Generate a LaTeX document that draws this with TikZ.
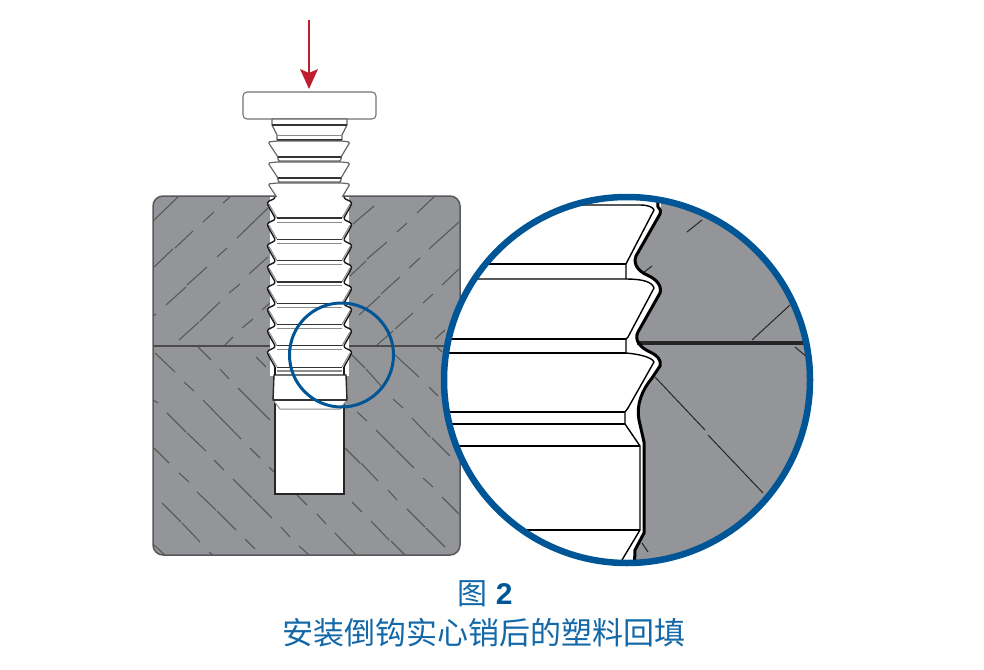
\documentclass[tikz,border=0pt]{standalone}
\usepackage{fontspec}
\setmainfont{Liberation Sans}
\newfontfamily\cjk{Noto Sans CJK SC}
\definecolor{blockgray}{HTML}{939598}
\definecolor{edgegray}{HTML}{58595B}
\definecolor{calloutblue}{HTML}{005596}
\definecolor{captionblue}{HTML}{1268A8}
\definecolor{arrowred}{HTML}{BE1E2D}
\tikzset{
  hatchline/.style={draw=edgegray,line width=1.1pt},
  screwline/.style={draw=black!80,line width=1.2pt,line join=round},
  softline/.style={draw=black!45,line width=1pt,line join=round},
  outline/.style={draw=black!60,line width=1.2pt,line join=round,fill=white},
  cavity/.style={draw=black!90,line width=1.4pt,line join=round},
  zoomline/.style={draw=black,line width=1.4pt,line join=round},
  zoomprofile/.style={draw=black,line width=3pt,line join=round},
  zoomhatch/.style={draw=black!85,line width=1pt},
  callout/.style={draw=calloutblue,line width=3pt},
}
\newcommand{\embeddedbarb}[1]{% #1 = y of the tip
  \draw[softline] (277,#1+15) -- (269,#1+1) (342,#1+15) -- (350,#1+1);
  \draw[screwline] (277,#1+15) -- (342,#1+15);
  \draw[softline] (277,#1+19) -- (342,#1+19);
  \draw[cavity] (275,#1-6) .. controls (275,#1-3) and (268,#1-3) .. (267.5,#1) .. controls (267.5,#1+2) and (270,#1+6) .. (274,#1+13) .. controls (275,#1+14) and (275,#1+15) .. (275,#1+15.3);
  \draw[cavity] (344,#1-6) .. controls (344,#1-3) and (351,#1-3) .. (351.5,#1) .. controls (351.5,#1+2) and (349,#1+6) .. (345,#1+13) .. controls (344,#1+14) and (344,#1+15) .. (344,#1+15.3);
}
\begin{document}
\begin{tikzpicture}[x=1pt,y=-1pt]
\useasboundingbox (0,0) rectangle (984,669);
% block
\draw[fill=blockgray,draw=edgegray,line width=1.5pt,rounded corners=10pt] (153,196) rectangle (460,555);
% hatches
\foreach \a/\b/\c/\d in {
154/220/178/197, 223/203/230/197, 203/222/214/212, 154/267/173/249, 175/248/193/231,
237/238/268/208, 217/257/227/248, 166/305/186/287, 187/285/207/267, 249/274/268/257,
229/293/240/284, 179/340/199/322, 200/321/220/302, 262/310/270/303, 242/328/253/319,
225/345/233/337, 153/316/156/314,
353/224/374/206, 417/213/435/196, 397/232/407/223, 350/276/366/261, 367/259/387/242,
429/249/459/222, 409/268/420/258, 359/315/380/296, 381/294/400/277, 442/285/459/269,
423/303/433/294, 377/345/393/331, 395/329/413/313, 435/339/445/330,
155/353/175/372, 198/347/211/360, 220/369/229/379, 256/357/266/367, 184/382/194/391,
238/388/270/420, 203/400/241/439, 153/400/158/403, 167/413/186/432, 187/433/206/451,
250/448/260/458, 154/448/169/463, 214/460/224/470, 179/473/189/482, 233/479/252/498,
253/499/272/518, 197/492/216/510, 217/511/236/530, 162/503/181/522, 182/523/200/542,
245/539/255/549, 154/545/165/555, 209/552/213/555, 269/467/274/472,
350/353/365/368, 366/369/382/387, 395/355/419/377, 437/347/442/352, 429/387/438/396,
393/399/403/408, 357/412/367/421, 412/418/430/437, 432/438/450/456, 376/430/395/449,
396/450/414/468, 345/448/360/463, 361/463/378/481, 423/478/433/487, 388/490/397/500,
442/497/459/514, 352/502/362/512, 407/509/425/527, 426/528/445/547, 371/521/389/540,
391/541/405/555, 335/533/356/555, 297/495/307/505, 317/514/326/524, 281/527/290/537,
299/546/309/555
}{\draw[hatchline] (\a,\b) -- (\c,\d);}
\draw[draw=black!70,line width=1.6pt] (153,346) -- (460,346);
% hole
\draw[draw=black!85,line width=1.4pt,fill=white] (275,395) -- (275,494) -- (344,494) -- (344,395);
% cap
\draw[draw=black!55,line width=1.1pt,fill=white,rounded corners=4pt] (243,92) rectangle (376,119);
% neck under head
\draw[outline] (272,119) -- (272,125) -- (277,135) -- (277,140) -- (342,140) -- (342,135) -- (347,125) -- (347,119) -- cycle;
\draw[screwline] (272,125) -- (347,125);
\draw[softline] (277,135) -- (342,135);
\draw[screwline] (277,140) -- (342,140);
% exposed barbs
\foreach \yy in {141,162,183}{
  \draw[outline,rounded corners=1.5pt] (277,\yy) -- (268,\yy+1) -- (278,\yy+16) -- (278,\yy+20) -- (341,\yy+20) -- (341,\yy+16) -- (350,\yy+1) -- (342,\yy) -- cycle;
  \draw[screwline] (278,\yy+16) -- (341,\yy+16);
  \draw[softline] (278,\yy+20) -- (341,\yy+20);
}
% embedded part of the pin
\fill[white] (270,197) rectangle (349,376);
\fill[white] (267.5,203) -- (275,218) -- (275,197) -- cycle;
\foreach \yy in {203,224.3,245.6,266.9,288.2,309.5,330.8,352.1}{
  \fill[white] (267.5,\yy) -- (274,\yy+13) -- (274,\yy-5) -- cycle;
  \fill[white] (351.5,\yy) -- (345,\yy+13) -- (345,\yy-5) -- cycle;
  \embeddedbarb{\yy}
}
\draw[cavity] (275,367) -- (275,375);
\draw[cavity] (344,367) -- (344,375);
\draw[softline] (277,370) -- (342,370);
% collar below barbs
\draw[draw=black!85,line width=1.4pt,fill=white] (274,375) -- (273,400) -- (347,400) -- (346,375) -- cycle;
\draw[draw=black!45,line width=1pt,fill=white] (273,400) -- (280,409) -- (340,409) -- (347,400);
\draw[screwline] (273,400) -- (347,400);
% pressing arrow
\coordinate (arrowtop) at (309,20);
\coordinate (arrowtip) at (309,89);
\draw[arrowred,line width=2pt] (arrowtop) -- (309,74);
\fill[arrowred] (arrowtip) -- (300,69) -- (309,73) -- (318,69) -- cycle;
% small circle
\node[circle,callout,minimum size=104pt,inner sep=0pt] (small) at (341.5,355) {};
% big circle
\fill[white] (627,380) circle (183);
\begin{scope}
\clip (627,380) circle (183);
\fill[blockgray] (661,190) -- (661,213) -- (635,257) .. controls (634,264) and (638,270) .. (647,276) .. controls (654,279) and (661,284) .. (660,293) -- (637,333) .. controls (635,340) and (640,348) .. (648,351) .. controls (657,355) and (662,360) .. (660,366) -- (652,378) -- (640,400) -- (638,420) -- (644,442) -- (644,533) -- (635,550) -- (633,575) -- (830,575) -- (830,190) -- cycle;
% hatches inside the callout
\foreach \a/\b/\c/\d in {687/232/702/220, 643/273/652/266, 752/340/790/305, 795/347/807/357, 655/377/705/430, 708/435/763/493, 642/543/648/552}{
  \draw[zoomhatch] (\a,\b) -- (\c,\d);
}
\draw[draw=black!85,line width=3.5pt] (637,343) -- (810,343);
% horizontal screw lines
\foreach \yy/\xa/\xb in {264/480/626, 339/440/626, 353/440/626, 412/440/625, 424/440/625, 446/440/640, 530/500/640}{
  \draw[zoomline] (\xa,\yy) -- (\xb,\yy);
}
\draw[zoomline] (440,279) -- (626,279) .. controls (640,279) and (652,281) .. (654,288) -- (628,337) -- (626,339) -- (626,353);
\draw[zoomline] (626,353) .. controls (638,354) and (652,357) .. (654,362) -- (628,408) -- (625,412) -- (625,424) -- (640,446) -- (640,530) -- (622,560);
\draw[zoomline] (560,205) -- (640,205) .. controls (648,205) and (653,207) .. (654,210) -- (628,260) -- (626,264) -- (626,279);
% black profile
\draw[zoomprofile] (657,190) -- (658,207) .. controls (661,210) and (661,212) .. (660,214) -- (636,256) .. controls (633,264) and (638,271) .. (647,275) .. controls (656,279) and (662,285) .. (660,293) -- (638,332) .. controls (634,340) and (640,347) .. (648,351) .. controls (657,355) and (662,360) .. (660,366) -- (652,378) .. controls (642,390) and (636,405) .. (639,420) -- (644,442) -- (644,533) -- (635,550) -- (634,575);
\end{scope}
\node[circle,draw=calloutblue,line width=6.5pt,minimum size=366pt,inner sep=0pt] (big) at (627,380) {};
% caption
\node[text=captionblue,font=\fontsize{30}{32}\selectfont,anchor=center] (fignum) at (485,594) {{\cjk 图} \textbf{\textcolor{calloutblue}{2}}};
\node[text=captionblue,font=\cjk\fontsize{31}{33}\selectfont,anchor=center] (caption) at (484,633) {安装倒钩实心销后的塑料回填};
\end{tikzpicture}
\end{document}
